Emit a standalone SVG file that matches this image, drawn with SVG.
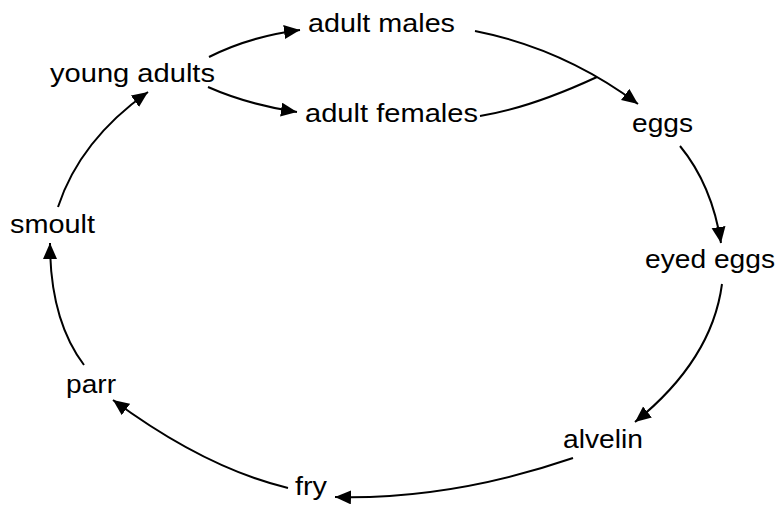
<svg xmlns="http://www.w3.org/2000/svg" width="782" height="506" viewBox="0 0 782 506">
<style>
.lbl{font-family:"Liberation Sans",Arial,sans-serif;font-size:25.5px;fill:#000}
.c{fill:none;stroke:#000;stroke-width:2}
.a{marker-end:url(#ah)}
</style>
<defs>
<marker id="ah" markerUnits="userSpaceOnUse" markerWidth="17" markerHeight="15" refX="16" refY="7" orient="auto">
<path d="M0,0 L16,7 L0,14 z" fill="#000"/>
</marker>
</defs>
<rect width="782" height="506" fill="#fff"/>
<g id="connectors">
<path class="c a" d="M209,57 Q249.5,36.5 300,30"/>
<path class="c a" d="M208,87 Q247.5,104.5 297,112"/>
<path class="c a" d="M475,31 Q563.5,48.5 638,104"/>
<path class="c" d="M480,116 Q530,108 597,77"/>
<path class="c a" d="M680,146 Q712,185 721,243"/>
<path class="c a" d="M722,284 Q712,360 635,422"/>
<path class="c a" d="M573,458 Q450,500 335,497"/>
<path class="c a" d="M288,488 Q205,468 113,400"/>
<path class="c a" d="M84,365 Q50,320 50,243"/>
<path class="c a" d="M58,207 Q80,140 148,92"/>
</g>
<g id="young-adults"><text class="lbl" x="50" y="82" textLength="165" lengthAdjust="spacingAndGlyphs">young adults</text></g>
<g id="adult-males"><text class="lbl" x="308" y="32" textLength="147" lengthAdjust="spacingAndGlyphs">adult males</text></g>
<g id="adult-females"><text class="lbl" x="305" y="122" textLength="173" lengthAdjust="spacingAndGlyphs">adult females</text></g>
<g id="eggs"><text class="lbl" x="632" y="132" textLength="61" lengthAdjust="spacingAndGlyphs">eggs</text></g>
<g id="eyed-eggs"><text class="lbl" x="645" y="268" textLength="130" lengthAdjust="spacingAndGlyphs">eyed eggs</text></g>
<g id="alvelin"><text class="lbl" x="563" y="448" textLength="80" lengthAdjust="spacingAndGlyphs">alvelin</text></g>
<g id="fry"><text class="lbl" x="295" y="495" textLength="32" lengthAdjust="spacingAndGlyphs">fry</text></g>
<g id="parr"><text class="lbl" x="66" y="393" textLength="50" lengthAdjust="spacingAndGlyphs">parr</text></g>
<g id="smoult"><text class="lbl" x="10" y="233" textLength="85" lengthAdjust="spacingAndGlyphs">smoult</text></g>
</svg>
